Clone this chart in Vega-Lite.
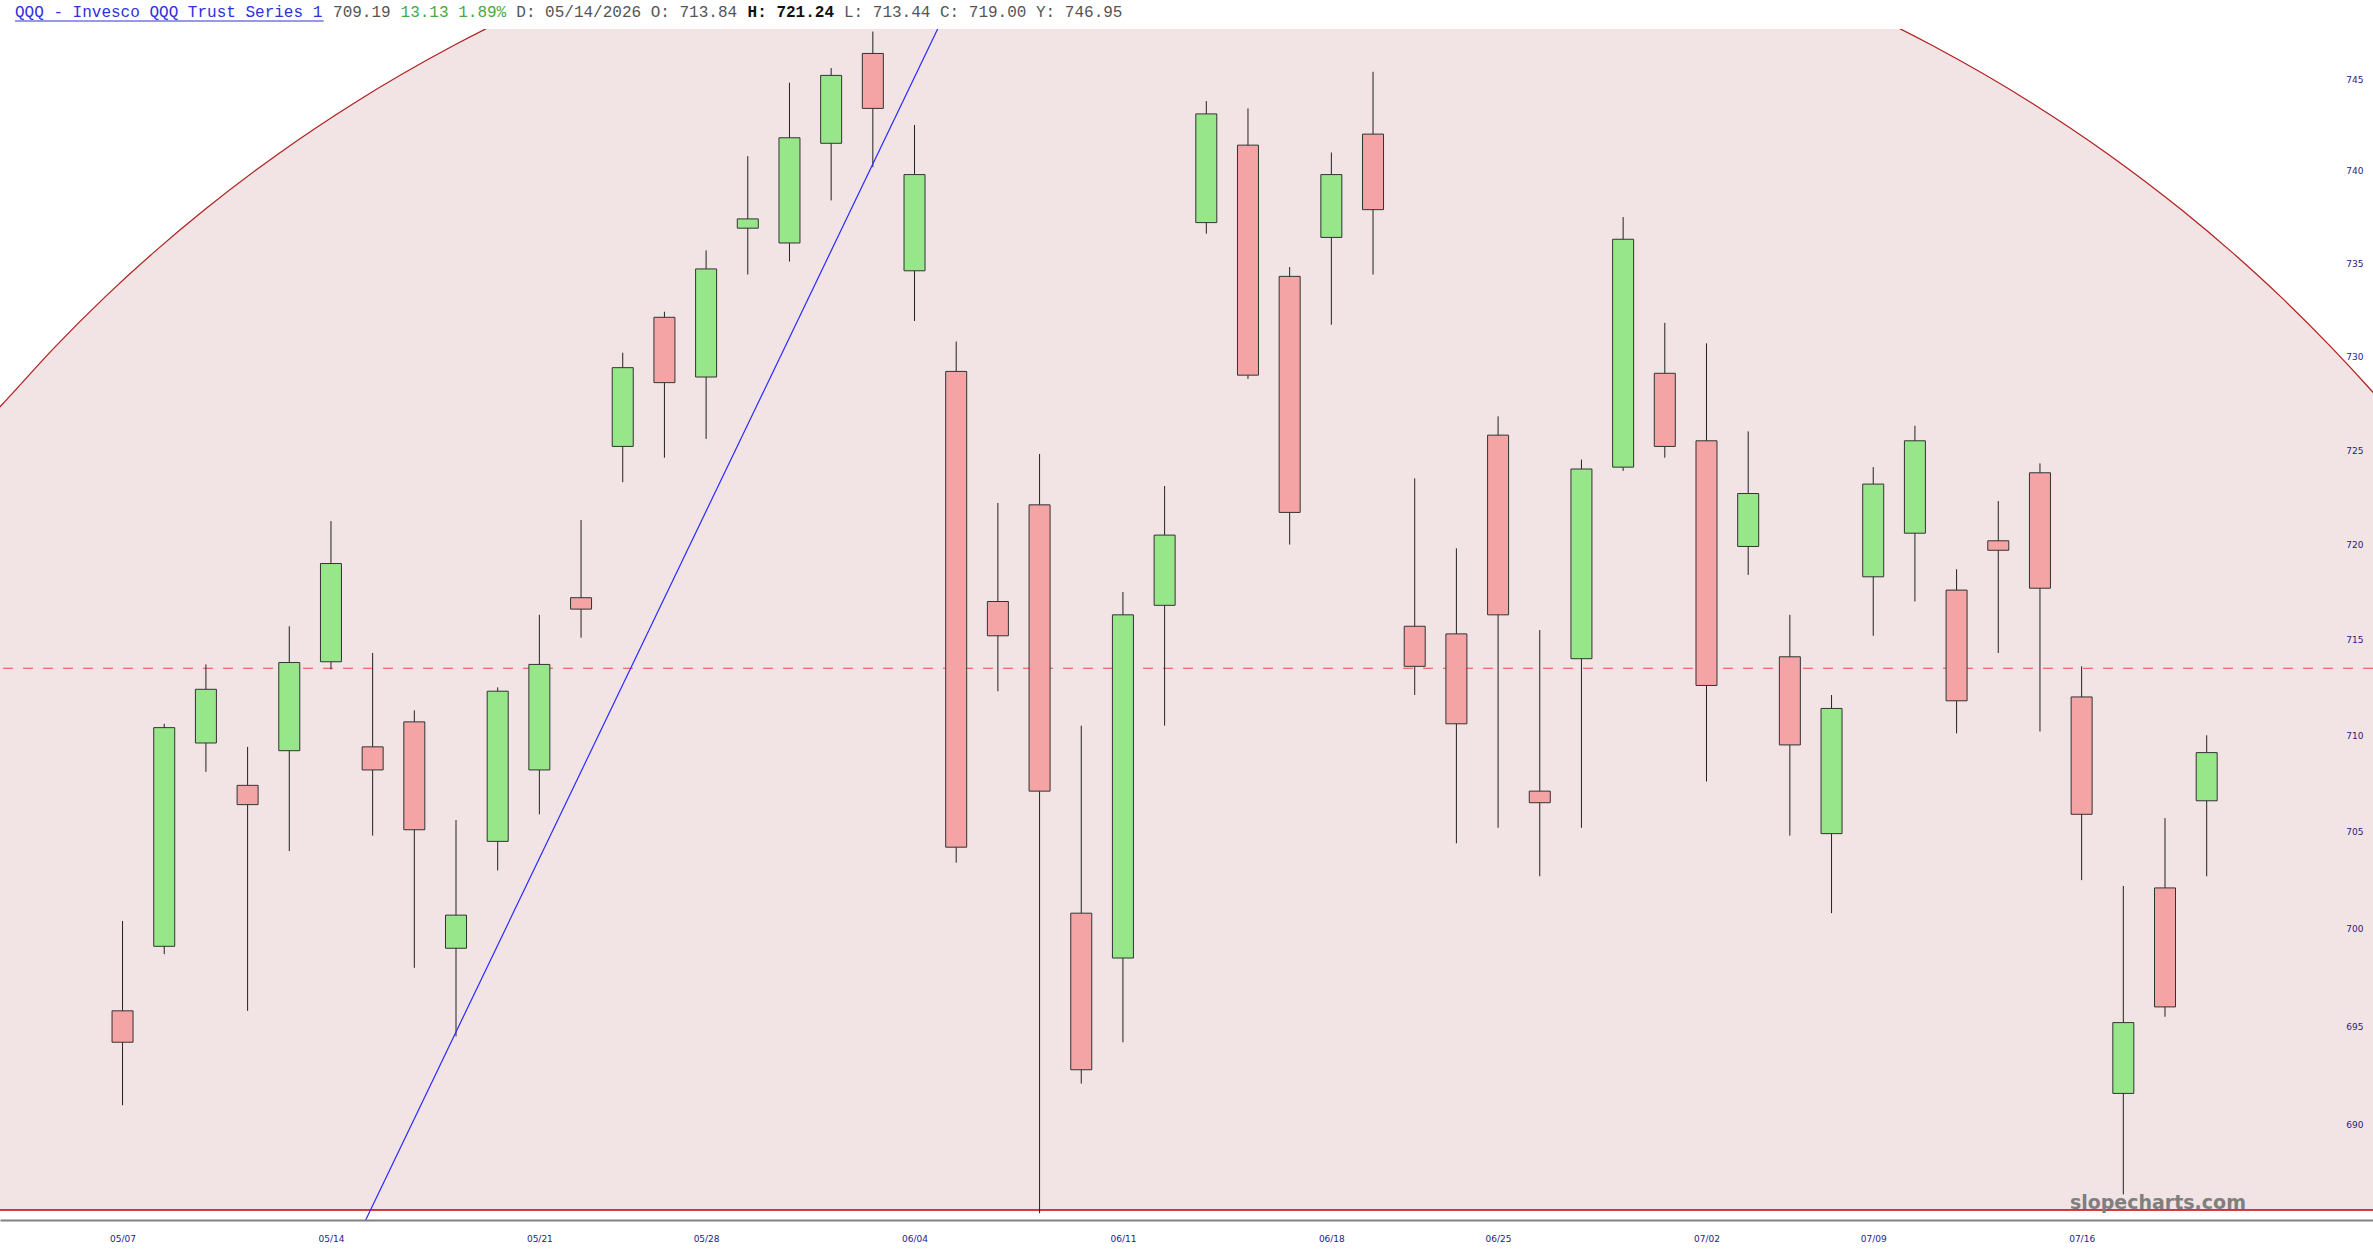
{
  "$schema": "https://vega.github.io/schema/vega-lite/v6.json",
  "width": 2373,
  "height": 1191,
  "autosize": {"type": "none"},
  "padding": {"left": 0, "right": 0, "top": 29, "bottom": 40},
  "background": "#ffffff",
  "config": {"view": {"stroke": null}},
  "datasets": {
    "candles": [
      {"i": 0, "date": "05/07", "open": 695.8, "high": 700.4, "low": 691.0, "close": 694.2},
      {"i": 1, "date": "05/08", "open": 699.1, "high": 710.6, "low": 698.7, "close": 710.4},
      {"i": 2, "date": "05/11", "open": 709.6, "high": 713.7, "low": 708.1, "close": 712.4},
      {"i": 3, "date": "05/12", "open": 707.4, "high": 709.4, "low": 695.8, "close": 706.4},
      {"i": 4, "date": "05/13", "open": 709.2, "high": 715.7, "low": 704.0, "close": 713.8},
      {"i": 5, "date": "05/14", "open": 713.84, "high": 721.24, "low": 713.44, "close": 719.0},
      {"i": 6, "date": "05/15", "open": 709.4, "high": 714.3, "low": 704.8, "close": 708.2},
      {"i": 7, "date": "05/18", "open": 710.7, "high": 711.3, "low": 698.0, "close": 705.1},
      {"i": 8, "date": "05/19", "open": 699.0, "high": 705.6, "low": 694.5, "close": 700.7},
      {"i": 9, "date": "05/20", "open": 704.5, "high": 712.5, "low": 703.0, "close": 712.3},
      {"i": 10, "date": "05/21", "open": 708.2, "high": 716.3, "low": 705.9, "close": 713.7},
      {"i": 11, "date": "05/22", "open": 717.2, "high": 721.3, "low": 715.1, "close": 716.6},
      {"i": 12, "date": "05/26", "open": 725.2, "high": 730.2, "low": 723.3, "close": 729.4},
      {"i": 13, "date": "05/27", "open": 732.1, "high": 732.4, "low": 724.6, "close": 728.6},
      {"i": 14, "date": "05/28", "open": 728.9, "high": 735.7, "low": 725.6, "close": 734.7},
      {"i": 15, "date": "05/29", "open": 736.9, "high": 740.8, "low": 734.4, "close": 737.4},
      {"i": 16, "date": "06/01", "open": 736.1, "high": 744.8, "low": 735.1, "close": 741.8},
      {"i": 17, "date": "06/02", "open": 741.5, "high": 745.6, "low": 738.4, "close": 745.2},
      {"i": 18, "date": "06/03", "open": 746.4, "high": 747.6, "low": 740.2, "close": 743.4},
      {"i": 19, "date": "06/04", "open": 734.6, "high": 742.5, "low": 731.9, "close": 739.8},
      {"i": 20, "date": "06/05", "open": 729.2, "high": 730.8, "low": 703.4, "close": 704.2},
      {"i": 21, "date": "06/08", "open": 717.0, "high": 722.2, "low": 712.3, "close": 715.2},
      {"i": 22, "date": "06/09", "open": 722.1, "high": 724.8, "low": 685.55, "close": 707.1},
      {"i": 23, "date": "06/10", "open": 700.8, "high": 710.5, "low": 692.1, "close": 692.8},
      {"i": 24, "date": "06/11", "open": 698.5, "high": 717.5, "low": 694.2, "close": 716.3},
      {"i": 25, "date": "06/12", "open": 716.8, "high": 723.1, "low": 710.5, "close": 720.5},
      {"i": 26, "date": "06/15", "open": 737.2, "high": 743.8, "low": 736.6, "close": 743.1},
      {"i": 27, "date": "06/16", "open": 741.4, "high": 743.4, "low": 728.8, "close": 729.0},
      {"i": 28, "date": "06/17", "open": 734.3, "high": 734.8, "low": 720.0, "close": 721.7},
      {"i": 29, "date": "06/18", "open": 736.4, "high": 741.0, "low": 731.7, "close": 739.8},
      {"i": 30, "date": "06/22", "open": 742.0, "high": 745.4, "low": 734.4, "close": 737.9},
      {"i": 31, "date": "06/23", "open": 715.7, "high": 723.5, "low": 712.1, "close": 713.6},
      {"i": 32, "date": "06/24", "open": 715.3, "high": 719.8, "low": 704.4, "close": 710.6},
      {"i": 33, "date": "06/25", "open": 725.8, "high": 726.8, "low": 705.2, "close": 716.3},
      {"i": 34, "date": "06/26", "open": 707.1, "high": 715.5, "low": 702.7, "close": 706.5},
      {"i": 35, "date": "06/29", "open": 714.0, "high": 724.5, "low": 705.2, "close": 724.0},
      {"i": 36, "date": "06/30", "open": 724.1, "high": 737.5, "low": 723.9, "close": 736.3},
      {"i": 37, "date": "07/01", "open": 729.1, "high": 731.8, "low": 724.6, "close": 725.2},
      {"i": 38, "date": "07/02", "open": 725.5, "high": 730.7, "low": 707.6, "close": 712.6},
      {"i": 39, "date": "07/06", "open": 719.9, "high": 726.0, "low": 718.4, "close": 722.7},
      {"i": 40, "date": "07/07", "open": 714.1, "high": 716.3, "low": 704.8, "close": 709.5},
      {"i": 41, "date": "07/08", "open": 704.9, "high": 712.1, "low": 700.8, "close": 711.4},
      {"i": 42, "date": "07/09", "open": 718.3, "high": 724.1, "low": 715.2, "close": 723.2},
      {"i": 43, "date": "07/10", "open": 720.6, "high": 726.3, "low": 717.0, "close": 725.5},
      {"i": 44, "date": "07/13", "open": 717.6, "high": 718.7, "low": 710.1, "close": 711.8},
      {"i": 45, "date": "07/14", "open": 720.2, "high": 722.3, "low": 714.3, "close": 719.7},
      {"i": 46, "date": "07/15", "open": 723.8, "high": 724.3, "low": 710.2, "close": 717.7},
      {"i": 47, "date": "07/16", "open": 712.0, "high": 713.6, "low": 702.5, "close": 705.9},
      {"i": 48, "date": "07/17", "open": 691.6, "high": 702.2, "low": 686.5, "close": 695.2},
      {"i": 49, "date": "07/20", "open": 702.1, "high": 705.7, "low": 695.5, "close": 696.0},
      {"i": 50, "date": "07/21", "open": 706.6, "high": 710.0, "low": 702.7, "close": 709.1}
    ],
    "arc": [
      {"i": -3.2, "price": 726.7},
      {"i": -2.819, "price": 727.6},
      {"i": -1.624, "price": 730.5},
      {"i": -0.43, "price": 733.17},
      {"i": 0.764, "price": 735.62},
      {"i": 1.959, "price": 737.88},
      {"i": 3.751, "price": 740.95},
      {"i": 5.542, "price": 743.67},
      {"i": 7.931, "price": 746.82},
      {"i": 10.32, "price": 749.49},
      {"i": 13.903, "price": 752.66},
      {"i": 18.681, "price": 755.49},
      {"i": 25.681, "price": 757.0},
      {"i": 32.681, "price": 755.49},
      {"i": 37.459, "price": 752.66},
      {"i": 41.042, "price": 749.49},
      {"i": 43.431, "price": 746.82},
      {"i": 45.82, "price": 743.67},
      {"i": 47.611, "price": 740.95},
      {"i": 49.403, "price": 737.88},
      {"i": 50.597, "price": 735.62},
      {"i": 51.792, "price": 733.17},
      {"i": 52.986, "price": 730.5},
      {"i": 53.87, "price": 728.38},
      {"i": 54.3, "price": 727.3}
    ],
    "trend": [
      {"i": 5.776, "price": 684.96},
      {"i": 19.66, "price": 748.24}
    ],
    "one": [{}]
  },
  "layer": [
    {
      "data": {"name": "arc"},
      "mark": {"type": "area", "color": "#f2e4e4", "interpolate": "monotone", "clip": true},
      "encoding": {
        "x": {"field": "i", "type": "quantitative", "scale": {"domain": [-2.82, 53.87], "nice": false, "zero": false}},
        "y": {"field": "price", "type": "quantitative", "scale": {"type": "log", "domain": [685.21, 747.74], "nice": false}},
        "y2": {"datum": 685.71}
      }
    },
    {
      "data": {"name": "arc"},
      "mark": {"type": "line", "color": "#b22222", "strokeWidth": 1.3, "interpolate": "monotone", "clip": true},
      "encoding": {
        "x": {"field": "i", "type": "quantitative"},
        "y": {"field": "price", "type": "quantitative", "scale": {"type": "log"}}
      }
    },
    {
      "data": {"name": "one"},
      "mark": {"type": "rule", "color": "#c00000", "strokeWidth": 1.5, "clip": true},
      "encoding": {
        "y": {"datum": 685.71, "type": "quantitative", "scale": {"type": "log"}}
      }
    },
    {
      "data": {"name": "one"},
      "mark": {"type": "rule", "color": "#f04848", "strokeWidth": 1.2, "strokeDash": [10, 10], "clip": true},
      "encoding": {
        "y": {"datum": 713.5, "type": "quantitative", "scale": {"type": "log"}}
      }
    },
    {
      "data": {"name": "candles"},
      "mark": {"type": "rule", "color": "#222222", "strokeWidth": 1, "clip": true},
      "encoding": {
        "x": {"field": "i", "type": "quantitative"},
        "y": {"field": "low", "type": "quantitative", "scale": {"type": "log"}},
        "y2": {"field": "high"}
      }
    },
    {
      "data": {"name": "candles"},
      "mark": {"type": "bar", "width": 21, "stroke": "#333333", "strokeWidth": 1, "clip": true},
      "encoding": {
        "x": {
          "field": "i",
          "type": "quantitative",
          "axis": {
            "orient": "bottom",
            "zindex": 1,
            "values": [0, 5, 10, 14, 19, 24, 29, 33, 38, 42, 47],
            "labelExpr": "['05/07','05/14','05/21','05/28','06/04','06/11','06/18','06/25','07/02','07/09','07/16'][indexof([0,5,10,14,19,24,29,33,38,42,47], datum.value)]",
            "grid": false,
            "ticks": false,
            "tickSize": 0,
            "domainColor": "#808080",
            "domainWidth": 2,
            "labelPadding": 18,
            "labelBaseline": "middle",
            "labelFont": "DejaVu Sans",
            "labelFontSize": 9,
            "labelColor": "#22228a",
            "title": null
          }
        },
        "y": {
          "field": "open",
          "type": "quantitative",
          "scale": {"type": "log"},
          "axis": {
            "orient": "right",
            "zindex": 1,
            "offset": -10,
            "values": [690, 695, 700, 705, 710, 715, 720, 725, 730, 735, 740, 745],
            "grid": false,
            "domain": false,
            "ticks": false,
            "tickSize": 0,
            "labelPadding": 0,
            "labelAlign": "right",
            "labelFont": "DejaVu Sans",
            "labelFontSize": 9,
            "labelColor": "#22228a",
            "title": null
          }
        },
        "y2": {"field": "close"},
        "color": {
          "condition": {"test": "datum.close >= datum.open", "value": "#98e68a"},
          "value": "#f4a4a4"
        }
      }
    },
    {
      "data": {"name": "trend"},
      "mark": {"type": "line", "color": "#2a2aff", "strokeWidth": 1.2, "clip": true},
      "encoding": {
        "x": {"field": "i", "type": "quantitative"},
        "y": {"field": "price", "type": "quantitative", "scale": {"type": "log"}}
      }
    },
    {
      "data": {"name": "one"},
      "mark": {"type": "text", "text": "slopecharts.com", "font": "DejaVu Sans", "fontWeight": "bold", "fontSize": 19, "color": "#7f7f7f", "align": "center", "baseline": "alphabetic"},
      "encoding": {
        "x": {"datum": 48.83, "type": "quantitative"},
        "y": {"datum": 685.76, "type": "quantitative", "scale": {"type": "log"}}
      }
    },
    {
      "data": {"name": "one"},
      "mark": {"type": "text", "text": "QQQ - Invesco QQQ Trust Series 1", "font": "Liberation Mono", "fontSize": 16, "color": "#3030dd", "align": "left", "baseline": "alphabetic"},
      "encoding": {
        "x": {"datum": -2.58, "type": "quantitative"},
        "y": {"datum": 748.4, "type": "quantitative", "scale": {"type": "log"}}
      }
    },
    {
      "data": {"name": "one"},
      "mark": {"type": "rule", "color": "#3030dd", "strokeWidth": 1.2},
      "encoding": {
        "x": {"datum": -2.58, "type": "quantitative"},
        "x2": {"datum": 4.826},
        "y": {"datum": 748.18, "type": "quantitative", "scale": {"type": "log"}}
      }
    },
    {
      "data": {"name": "one"},
      "mark": {"type": "text", "text": "709.19", "font": "Liberation Mono", "fontSize": 16, "color": "#555555", "align": "left", "baseline": "alphabetic"},
      "encoding": {
        "x": {"datum": 5.05, "type": "quantitative"},
        "y": {"datum": 748.4, "type": "quantitative", "scale": {"type": "log"}}
      }
    },
    {
      "data": {"name": "one"},
      "mark": {"type": "text", "text": "13.13 1.89%", "font": "Liberation Mono", "fontSize": 16, "color": "#44aa44", "align": "left", "baseline": "alphabetic"},
      "encoding": {
        "x": {"datum": 6.67, "type": "quantitative"},
        "y": {"datum": 748.4, "type": "quantitative", "scale": {"type": "log"}}
      }
    },
    {
      "data": {"name": "one"},
      "mark": {"type": "text", "text": "D: 05/14/2026 O: 713.84", "font": "Liberation Mono", "fontSize": 16, "color": "#555555", "align": "left", "baseline": "alphabetic"},
      "encoding": {
        "x": {"datum": 9.446, "type": "quantitative"},
        "y": {"datum": 748.4, "type": "quantitative", "scale": {"type": "log"}}
      }
    },
    {
      "data": {"name": "one"},
      "mark": {"type": "text", "text": "H: 721.24", "font": "Liberation Mono", "fontSize": 16, "fontWeight": "bold", "color": "#111111", "align": "left", "baseline": "alphabetic"},
      "encoding": {
        "x": {"datum": 14.995, "type": "quantitative"},
        "y": {"datum": 748.4, "type": "quantitative", "scale": {"type": "log"}}
      }
    },
    {
      "data": {"name": "one"},
      "mark": {"type": "text", "text": "L: 713.44 C: 719.00 Y: 746.95", "font": "Liberation Mono", "fontSize": 16, "color": "#555555", "align": "left", "baseline": "alphabetic"},
      "encoding": {
        "x": {"datum": 17.308, "type": "quantitative"},
        "y": {"datum": 748.4, "type": "quantitative", "scale": {"type": "log"}}
      }
    }
  ]
}
